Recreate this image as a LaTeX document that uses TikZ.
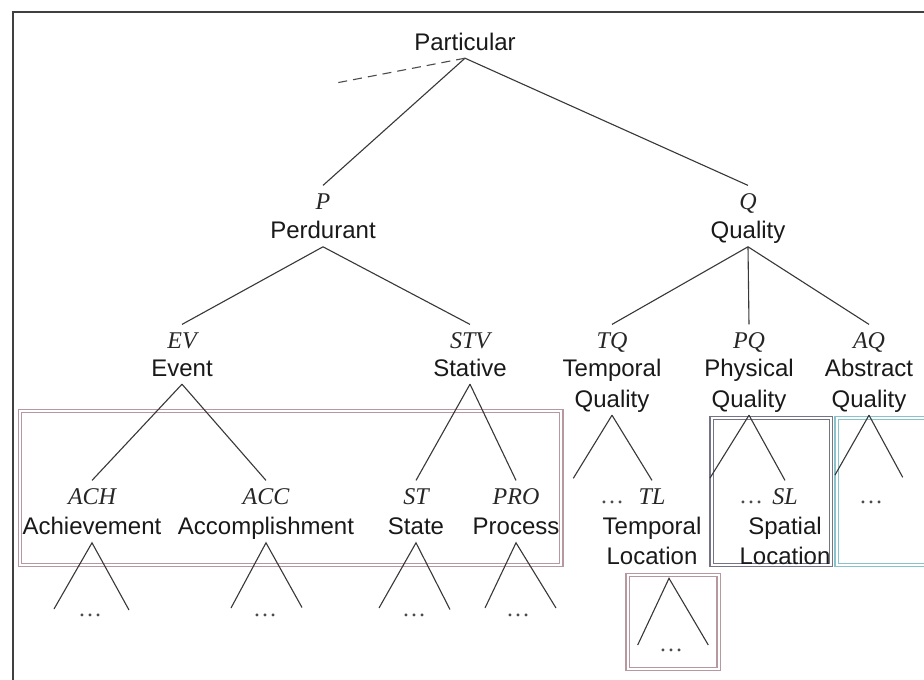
\documentclass[tikz,border=0pt]{standalone}
\usepackage{fontspec}
\setmainfont{Liberation Sans}
\newfontfamily\timesfam{Liberation Serif}
\definecolor{rosebox}{RGB}{184,152,160}
\definecolor{slatebox}{RGB}{116,116,134}
\definecolor{aquabox}{RGB}{136,194,202}
\tikzset{
  abbr/.style={font=\timesfam\itshape\fontsize{24}{28}\selectfont, inner sep=0pt,
               text height=24pt, text depth=0pt, anchor=base, text=black!85},
  term/.style={font=\fontsize{24}{28}\selectfont, inner sep=0pt,
               text height=18pt, text depth=8pt, anchor=base, text=black!90},
  etc/.style={font=\timesfam\fontsize{24}{28}\selectfont, inner sep=0pt,
              anchor=base, text=black!70},
  branch/.style={line width=1.1pt, draw=black!78},
  groupbox/.style={line width=1.4pt, double=white, double distance=2pt},
}
\begin{document}
\begin{tikzpicture}[x=1pt,y=-1pt]
\useasboundingbox (0,0) rectangle (924,680);
\fill[white] (0,0) rectangle (924,680);
\clip (0,0) rectangle (924,680);

% outer frame (open to the right and bottom)
\draw[line width=2pt, black!75] (13,690) -- (13,12) -- (930,12);

% grouping boxes
\draw[groupbox, draw=rosebox]  (20,411) rectangle (561.3,565);
\draw[groupbox, draw=slatebox] (711.5,418) rectangle (831,565);
\draw[groupbox, draw=aquabox]  (836.5,418) rectangle (935,565);
\draw[groupbox, draw=rosebox]  (627.5,575) rectangle (718.5,669);

% root
\node[term] (part) at (465,50) {Particular};
\coordinate (dashend) at (336,83);

% first level
\node[abbr] (Pab)  at (323,209.6) {P};
\node[term] (perd) at (323,238.6) {Perdurant};
\node[abbr] (Qab)  at (748,209.6) {Q};
\node[term] (qual) at (748,238.6) {Quality};

% second level
\node[abbr] (EVab)  at (182,348.6) {EV};
\node[term] (event) at (182,376) {Event};
\node[abbr] (STVab) at (470,348.6) {STV};
\node[term] (stat)  at (470,376) {Stative};
\node[abbr] (TQab)  at (612,348.6) {TQ};
\node[term] (tqa)   at (612,376) {Temporal};
\node[term] (tq)    at (612,407) {Quality};
\node[abbr] (PQab)  at (749,348.6) {PQ};
\node[term] (pqa)   at (749,376) {Physical};
\node[term] (pq)    at (749,407) {Quality};
\node[abbr] (AQab)  at (869,348.6) {AQ};
\node[term] (aqa)   at (869,376) {Abstract};
\node[term] (aq)    at (869,407) {Quality};

% third level
\node[abbr] (ACHab) at (92,504.6) {ACH};
\node[term] (ach)   at (92,534.6) {Achievement};
\node[abbr] (ACCab) at (266,504.6) {ACC};
\node[term] (acc)   at (266,534.6) {Accomplishment};
\node[abbr] (STab)  at (416,504.6) {ST};
\node[term] (st)    at (416,534.6) {State};
\node[abbr] (PROab) at (516,504.6) {PRO};
\node[term] (pro)   at (516,534.6) {Process};
\node[etc]  (tqetc) at (612,503) {…};
\node[abbr] (TLab)  at (652,504.6) {TL};
\node[term] (tla)   at (652,534.6) {Temporal};
\node[term] (tl)    at (652,564.6) {Location};
\node[etc]  (pqetc) at (751,503) {…};
\node[abbr] (SLab)  at (785,504.6) {SL};
\node[term] (sla)   at (785,534.6) {Spatial};
\node[term] (sl)    at (785,564.6) {Location};
\node[etc]  (aqetc) at (871,503) {…};

% leaves
\node[etc] (achetc) at (90,616.5) {…};
\node[etc] (accetc) at (265,616.5) {…};
\node[etc] (stetc)  at (414,616.5) {…};
\node[etc] (proetc) at (518,616.5) {…};
\node[etc] (tletc)  at (671,651.5) {…};

% free ends of open branches
\coordinate (achL) at (54,609);   \coordinate (achR) at (129,610);
\coordinate (accL) at (231,608);  \coordinate (accR) at (302,607.5);
\coordinate (stL)  at (379,608);  \coordinate (stR)  at (450,609.5);
\coordinate (proL) at (485,608);  \coordinate (proR) at (556,608);
\coordinate (tqL)  at (573.3,478.3);
\coordinate (pqL)  at (710,478);
\coordinate (aqL)  at (835,475);  \coordinate (aqR)  at (902.7,477.3);
\coordinate (tlTop) at (669,578.3);
\coordinate (tlL)  at (637.7,645); \coordinate (tlR) at (708.3,645);

% branches
\draw[branch] (part.south) -- (Pab.north);
\draw[branch] (part.south) -- (Qab.north);
\draw[branch, black!70, dash pattern=on 9pt off 6pt] (part.south) -- (dashend);

\draw[branch] (perd.south) -- (EVab.north);
\draw[branch] (perd.south) -- (STVab.north);
\draw[branch] (qual.south) -- (TQab.north);
\draw[branch] (qual.south) -- (PQab.north);
\draw[branch] (qual.south) -- (AQab.north);

\draw[branch] (event.south) -- (ACHab.north);
\draw[branch] (event.south) -- (ACCab.north);
\draw[branch] (stat.south) -- (STab.north);
\draw[branch] (stat.south) -- (PROab.north);
\draw[branch] (tq.south) -- (tqL);
\draw[branch] (tq.south) -- (TLab.north);
\draw[branch] (pq.south) -- (pqL);
\draw[branch] (pq.south) -- (SLab.north);
\draw[branch] (aq.south) -- (aqL);
\draw[branch] (aq.south) -- (aqR);

\draw[branch] (achL) -- (ach.south) -- (achR);
\draw[branch] (accL) -- (acc.south) -- (accR);
\draw[branch] (stL) -- (st.south) -- (stR);
\draw[branch] (proL) -- (pro.south) -- (proR);
\draw[branch] (tlL) -- (tlTop) -- (tlR);
\end{tikzpicture}
\end{document}
